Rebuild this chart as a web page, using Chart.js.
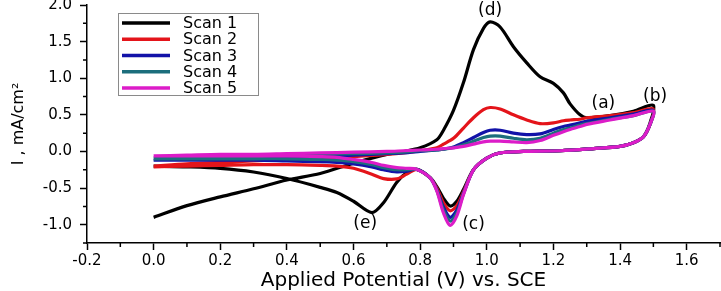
<!DOCTYPE html>
<html>
<head>
<meta charset="utf-8">
<script src="https://cdn.jsdelivr.net/npm/chart.js@4.4.0/dist/chart.umd.min.js"></script>
<style>
  html, body { margin: 0; padding: 0; background: #fff; }
  #wrap { width: 721px; height: 291px; }
</style>
</head>
<body>
<div id="wrap"><canvas id="cv"></canvas></div>
<script>
// potential steps (V vs SCE), forward sweep 0 -> 1.5 and reverse 1.5 -> 0
const fwdV = [0.0, 0.1, 0.2, 0.3, 0.4, 0.5, 0.6, 0.7, 0.75, 0.8, 0.85, 0.87, 0.9, 0.93, 0.96, 0.99, 1.01, 1.04, 1.08, 1.12, 1.16, 1.2, 1.23, 1.25, 1.28, 1.3, 1.37, 1.44, 1.5];
const revV = [1.5, 1.49, 1.47, 1.44, 1.4, 1.32, 1.22, 1.11, 1.04, 1.0, 0.96, 0.93, 0.91, 0.89, 0.87, 0.85, 0.83, 0.79, 0.76, 0.73, 0.69, 0.655, 0.6, 0.55, 0.5, 0.4, 0.3, 0.2, 0.1, 0.0];

// current density, mA/cm2
const scan1Fwd = [-0.90, -0.74, -0.62, -0.51, -0.39, -0.30, -0.16, -0.04, 0.00, 0.05, 0.16, 0.29, 0.56, 0.94, 1.39, 1.68, 1.77, 1.70, 1.43, 1.21, 1.02, 0.93, 0.80, 0.65, 0.50, 0.46, 0.49, 0.55, 0.63];
const scan2Fwd = [-0.20, -0.17, -0.15, -0.13, -0.11, -0.09, -0.07, -0.04, -0.02, 0.01, 0.05, 0.10, 0.18, 0.32, 0.46, 0.57, 0.60, 0.58, 0.50, 0.43, 0.38, 0.39, 0.42, 0.43, 0.44, 0.46, 0.49, 0.53, 0.58];
const scan3Fwd = [-0.12, -0.11, -0.10, -0.09, -0.08, -0.07, -0.05, -0.03, -0.02, 0.00, 0.02, 0.03, 0.06, 0.12, 0.19, 0.26, 0.29, 0.29, 0.25, 0.23, 0.24, 0.30, 0.34, 0.36, 0.39, 0.41, 0.46, 0.51, 0.56];
const scan4Fwd = [-0.09, -0.08, -0.07, -0.06, -0.05, -0.04, -0.03, -0.02, -0.01, 0.01, 0.02, 0.03, 0.05, 0.09, 0.14, 0.19, 0.21, 0.21, 0.18, 0.16, 0.18, 0.25, 0.30, 0.32, 0.36, 0.38, 0.44, 0.49, 0.55];
const scan5Fwd = [-0.06, -0.05, -0.04, -0.04, -0.03, -0.02, -0.01, 0.00, 0.01, 0.02, 0.03, 0.04, 0.05, 0.07, 0.10, 0.13, 0.14, 0.14, 0.13, 0.12, 0.15, 0.22, 0.27, 0.30, 0.34, 0.37, 0.43, 0.49, 0.55];

const scan1Rev = [0.63, 0.39, 0.20, 0.12, 0.07, 0.04, 0.01, 0.00, -0.02, -0.09, -0.25, -0.52, -0.68, -0.745, -0.64, -0.48, -0.36, -0.245, -0.29, -0.42, -0.70, -0.835, -0.68, -0.56, -0.49, -0.37, -0.28, -0.23, -0.21, -0.20];
const scan2Rev = [0.58, 0.37, 0.20, 0.12, 0.07, 0.04, 0.01, 0.00, -0.02, -0.09, -0.25, -0.55, -0.74, -0.81, -0.70, -0.50, -0.36, -0.245, -0.31, -0.375, -0.37, -0.31, -0.23, -0.20, -0.19, -0.18, -0.18, -0.19, -0.20, -0.21];
const scan3Rev = [0.56, 0.37, 0.20, 0.12, 0.07, 0.04, 0.01, 0.00, -0.02, -0.09, -0.25, -0.57, -0.80, -0.90, -0.76, -0.52, -0.36, -0.245, -0.27, -0.28, -0.25, -0.21, -0.17, -0.15, -0.14, -0.13, -0.12, -0.12, -0.12, -0.12];
const scan4Rev = [0.55, 0.37, 0.20, 0.12, 0.07, 0.04, 0.01, 0.00, -0.02, -0.09, -0.25, -0.58, -0.84, -0.95, -0.80, -0.53, -0.36, -0.245, -0.25, -0.25, -0.22, -0.18, -0.14, -0.12, -0.11, -0.10, -0.10, -0.10, -0.10, -0.10];
const scan5Rev = [0.55, 0.37, 0.20, 0.12, 0.07, 0.04, 0.01, 0.00, -0.02, -0.09, -0.25, -0.59, -0.88, -1.01, -0.84, -0.54, -0.36, -0.245, -0.23, -0.22, -0.19, -0.15, -0.11, -0.08, -0.07, -0.06, -0.06, -0.06, -0.06, -0.06];

const scanLabels = ['Scan 1', 'Scan 2', 'Scan 3', 'Scan 4', 'Scan 5'];
const scanColors = ['#000000', '#e4141a', '#1212a8', '#1c6e7c', '#dc1cc8'];

// peak annotations (text, potential, current)
const peakLabels = ['(a)', '(b)', '(c)', '(d)', '(e)'];
const peakV = [1.35, 1.505, 0.96, 1.01, 0.635];
const peakI = [0.65, 0.75, -1.0, 1.93, -0.99];

const FONT = '"DejaVu Sans", sans-serif';
const fwdAll = [scan1Fwd, scan2Fwd, scan3Fwd, scan4Fwd, scan5Fwd];
const revAll = [scan1Rev, scan2Rev, scan3Rev, scan4Rev, scan5Rev];

const datasets = scanLabels.map((label, k) => ({
  label,
  data: fwdV.map((v, i) => ({ x: v, y: fwdAll[k][i] }))
    .concat(revV.slice(1).map((v, i) => ({ x: v, y: revAll[k][i + 1] }))),
  borderColor: scanColors[k],
  backgroundColor: scanColors[k],
  borderWidth: 3.2,
  pointRadius: 0,
  showLine: true,
  tension: 0.3,
  order: scanLabels.length - 1 - k // later scans on top
}));

// short ticks between the labelled ones
const minorTicks = {
  id: 'minorTicks',
  afterDraw(chart) {
    const { ctx, scales: { x, y } } = chart;
    ctx.save();
    ctx.strokeStyle = '#000';
    ctx.lineWidth = 1.5;
    ctx.beginPath();
    for (let v = -0.1; v < 1.75; v += 0.2) {
      const px = x.getPixelForValue(v);
      ctx.moveTo(px, x.top);
      ctx.lineTo(px, x.top + 4);
    }
    for (let v = -1.25; v < 2; v += 0.5) {
      const py = y.getPixelForValue(v);
      ctx.moveTo(y.right, py);
      ctx.lineTo(y.right - 4, py);
    }
    ctx.stroke();
    ctx.restore();
  }
};

// boxed legend inside the plot, upper left
const boxLegend = {
  id: 'boxLegend',
  afterDraw(chart) {
    const { ctx, chartArea } = chart;
    const left = chartArea.left + 31, top = chartArea.top + 8;
    ctx.save();
    ctx.fillStyle = '#fff';
    ctx.fillRect(left, top, 140, 82);
    ctx.strokeStyle = '#8a8a8a';
    ctx.lineWidth = 1;
    ctx.strokeRect(left + 0.5, top + 0.5, 140, 82);
    ctx.font = '16px ' + FONT;
    ctx.textBaseline = 'middle';
    chart.data.datasets.forEach((ds, i) => {
      const cy = top + 10 + i * 16.25;
      ctx.strokeStyle = ds.borderColor;
      ctx.lineWidth = 3.5;
      ctx.beginPath();
      ctx.moveTo(left + 4, cy);
      ctx.lineTo(left + 52, cy);
      ctx.stroke();
      ctx.fillStyle = '#000';
      ctx.fillText(ds.label, left + 65, cy + 1);
    });
    ctx.restore();
  }
};

const peakText = {
  id: 'peakText',
  afterDraw(chart) {
    const { ctx, scales: { x, y } } = chart;
    ctx.save();
    ctx.font = '17px ' + FONT;
    ctx.fillStyle = '#000';
    ctx.textAlign = 'center';
    ctx.textBaseline = 'middle';
    peakLabels.forEach((t, i) => {
      ctx.fillText(t, x.getPixelForValue(peakV[i]), y.getPixelForValue(peakI[i]));
    });
    ctx.restore();
  }
};

new Chart(document.getElementById('cv'), {
  type: 'scatter',
  data: { datasets },
  options: {
    responsive: true,
    maintainAspectRatio: false,
    animation: false,
    events: [],
    layout: { padding: { top: 5, right: 1, left: 0, bottom: 0 } },
    plugins: { legend: { display: false }, tooltip: { enabled: false } },
    scales: {
      x: {
        type: 'linear',
        min: -0.2,
        max: 1.7,
        afterFit(scale) { scale.height = 48; scale.paddingLeft = 0; scale.paddingRight = 0; },
        border: { color: '#000', width: 1.5 },
        grid: { drawOnChartArea: false, tickLength: 7, tickColor: '#000', tickWidth: 1.5 },
        ticks: {
          stepSize: 0.2,
          includeBounds: false,
          maxRotation: 0,
          padding: 2,
          color: '#000',
          font: { family: FONT, size: 15 },
          callback: v => v.toFixed(1)
        },
        title: {
          display: true,
          text: 'Applied Potential (V) vs. SCE',
          color: '#000',
          font: { family: FONT, size: 20, lineHeight: 1.0 },
          padding: { top: 0, bottom: 0 }
        }
      },
      y: {
        type: 'linear',
        min: -1.25,
        max: 2.0,
        afterFit(scale) { scale.width = 87; scale.paddingTop = 0; scale.paddingBottom = 0; },
        border: { color: '#000', width: 1.5 },
        grid: { drawOnChartArea: false, tickLength: 7, tickColor: '#000', tickWidth: 1.5 },
        ticks: {
          stepSize: 0.5,
          includeBounds: false,
          padding: 8,
          color: '#000',
          font: { family: FONT, size: 15 },
          callback: v => v.toFixed(1)
        },
        title: {
          display: true,
          text: 'I , mA/cm²',
          color: '#000',
          font: { family: FONT, size: 16 },
          padding: { top: 9, bottom: 0 }
        }
      }
    }
  },
  plugins: [minorTicks, boxLegend, peakText]
});
</script>
</body>
</html>
